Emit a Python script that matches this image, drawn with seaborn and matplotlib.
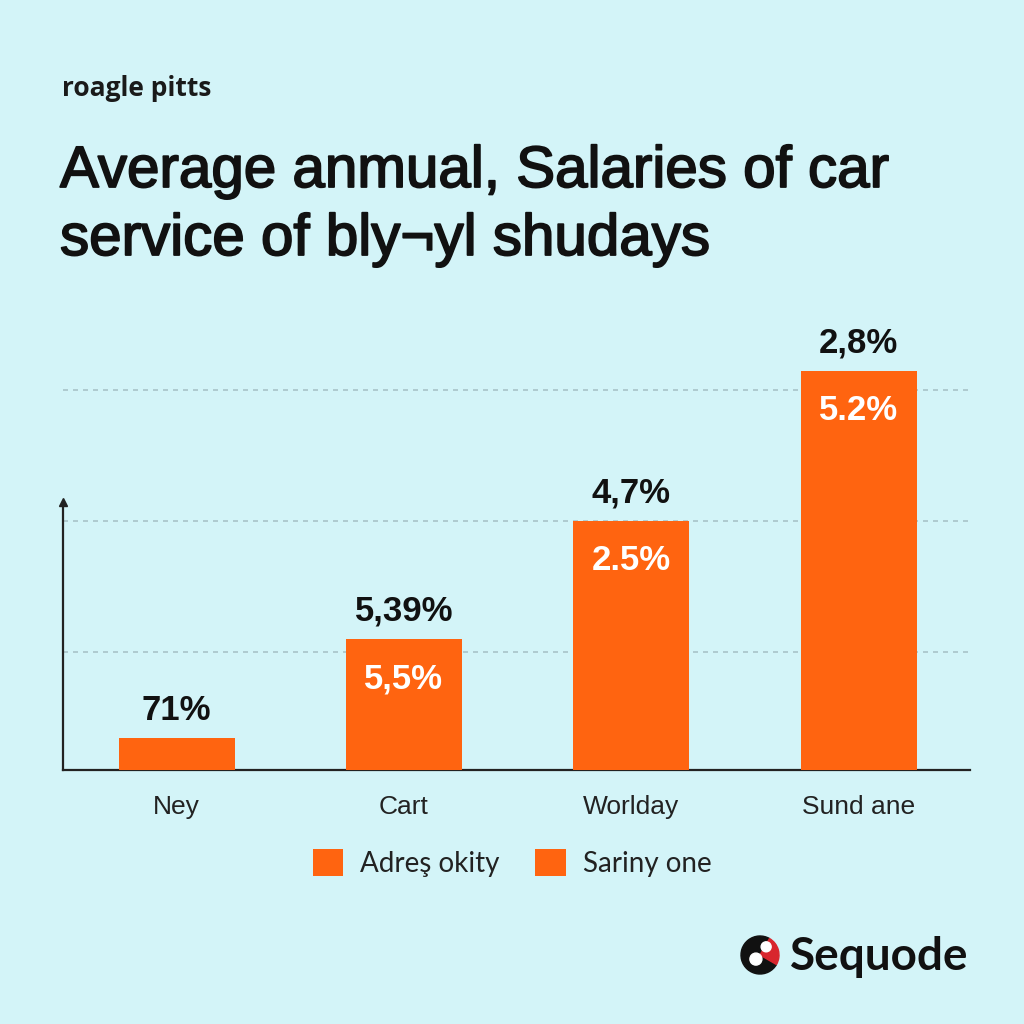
import matplotlib
matplotlib.use("Agg")
import matplotlib.pyplot as plt
import matplotlib.patheffects as pe
from matplotlib.patches import Patch, Circle, Wedge
import seaborn as sns
import pandas as pd

# ---- data ----
categories = ["Ney", "Cart", "Worlday", "Sund ane"]
values = [0.32, 1.31, 2.49, 3.99]
top_labels = ["71%", "5,39%", "4,7%", "2,8%"]
inner_labels = ["", "5,5%", "2.5%", "5.2%"]
grid_levels = [1.18, 2.49, 3.80]
legend_labels = ["Adreş okity", "Sariny one"]
subtitle = "roagle pitts"
title_lines = ["Average anmual, Salaries of car", "service of bly\u00acyl shudays"]
brand = "Sequode"

BG = "#D3F4F8"
ORANGE = "#FF6410"
DARK = "#111111"

sns.set_theme(style="white")
plt.rcParams["font.family"] = ["Liberation Sans", "DejaVu Sans"]

fig = plt.figure(figsize=(10.24, 10.24), dpi=100, facecolor=BG)
ax = fig.add_axes([63/1024, 1-770/1024, (970-63)/1024, (770-300)/1024])
ax.set_facecolor(BG)

df = pd.DataFrame({"cat": categories, "val": values})
sns.barplot(data=df, x="cat", y="val", color=ORANGE, width=0.51, ax=ax,
            saturation=1, zorder=3)
for p in ax.patches:
    p.set_linewidth(0)

ax.set_xlim(-0.5, 3.49)
ax.set_ylim(0, 4.70)

for g in grid_levels:
    ax.axhline(g, color="#A8C3C8", lw=1.2, ls=(0, (3, 3)), zorder=1)

for i, (v, t, inn) in enumerate(zip(values, top_labels, inner_labels)):
    ax.text(i, v + 0.18, t, ha="center", va="baseline", fontsize=25,
            fontweight="bold", color=DARK, zorder=5)
    if inn:
        ax.text(i, v - 0.40, inn, ha="center", va="center", fontsize=25,
                fontweight="bold", color="white", zorder=5)

for s in ["top", "right"]:
    ax.spines[s].set_visible(False)
ax.spines["bottom"].set_color("#222222")
ax.spines["bottom"].set_linewidth(1.6)
ax.spines["left"].set_color("#222222")
ax.spines["left"].set_linewidth(1.6)
ax.spines["left"].set_bounds(0, 2.66)
ax.plot([-0.5], [2.68], marker="^", color="#222222", markersize=6,
        clip_on=False, zorder=6)

ax.set_xlabel("")
ax.set_ylabel("")
ax.set_yticks([])
ax.tick_params(axis="x", length=0, pad=18, labelsize=19, labelcolor="#222222")

# legend
handles = [Patch(facecolor=ORANGE, edgecolor="none") for _ in legend_labels]
fig.legend(handles, legend_labels, loc="center", bbox_to_anchor=(0.5, 1-863/1024),
           ncol=2, frameon=False, handlelength=1.1, handleheight=1.1,
           handletextpad=0.6, columnspacing=1.3,
           prop={"family": ["Lato", "DejaVu Sans"], "size": 20}, labelcolor="#222222")

# titles
thick = [pe.withStroke(linewidth=1.3, foreground=DARK)]
fig.text(62/1024, 1-96/1024, subtitle, fontsize=19, fontweight="bold",
         family=["Open Sans", "DejaVu Sans"], color="#1a1a1a", va="baseline")
fig.text(60/1024, 1-187/1024, title_lines[0], fontsize=42, color=DARK, va="baseline",
         path_effects=thick)
fig.text(60/1024, 1-255/1024, title_lines[1], fontsize=42, color=DARK, va="baseline",
         path_effects=thick)

# brand logo
fig.text(790/1024, 1-970/1024, brand, fontsize=33, fontweight="bold",
         family=["Lato", "DejaVu Sans"], color=DARK, va="baseline")
cx, cy = 760/1024, 1-955/1024
r = 19/1024
fig.patches.append(Wedge((cx, cy), r, 60, 330, color=DARK, transform=fig.transFigure))
fig.patches.append(Wedge((cx, cy), r, 330, 60, color="#D8262E", transform=fig.transFigure))
fig.patches.append(Circle((cx - 0.004, cy - 0.004), 6/1024, color="white", transform=fig.transFigure))
fig.patches.append(Circle((cx + 0.006, cy + 0.008), 5/1024, color="white", transform=fig.transFigure))

fig.savefig("out.png", dpi=100, facecolor=BG)
